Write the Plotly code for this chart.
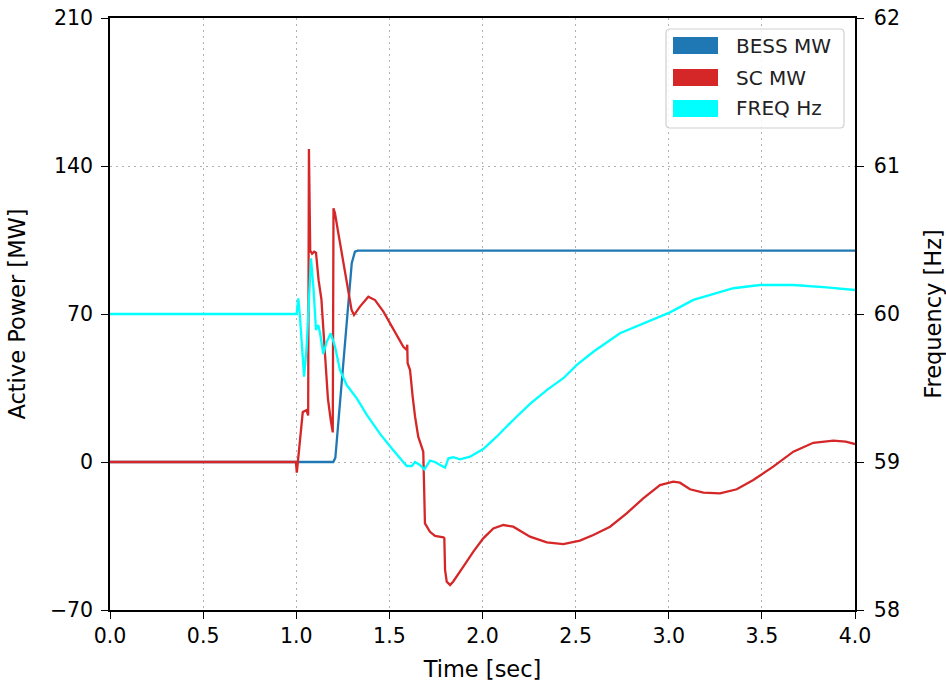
import plotly.graph_objects as go

# ---------------- data ----------------
bess_t = [0.0, 1.0, 1.199, 1.21, 1.25, 1.298, 1.315, 1.33, 4.0]
bess_mw = [0.0, 0.0, 0.0, 2.0, 42.0, 94.0, 99.5, 100.0, 100.0]

sc_t = [0.0, 0.998, 1.003, 1.012, 1.035, 1.055, 1.064, 1.068, 1.075, 1.085,
        1.096, 1.106, 1.12, 1.135, 1.155, 1.17, 1.185, 1.196, 1.2, 1.208,
        1.226, 1.253, 1.28, 1.297, 1.31, 1.342, 1.387, 1.423, 1.468, 1.521,
        1.575, 1.593, 1.596, 1.598, 1.611, 1.625, 1.638, 1.655, 1.682, 1.686,
        1.691, 1.718, 1.745, 1.79, 1.795, 1.799, 1.808, 1.826, 1.843, 1.897,
        1.951, 2.004, 2.058, 2.112, 2.165, 2.255, 2.345, 2.434, 2.523, 2.595,
        2.685, 2.774, 2.863, 2.953, 3.024, 3.06, 3.114, 3.186, 3.275, 3.365,
        3.454, 3.561, 3.669, 3.776, 3.884, 3.95, 4.0]
sc_mw = [0.0, 0.0, -5.0, 4.0, 23.6, 24.5, 22.0, 148.0, 100.0, 98.5,
         99.5, 99.0, 86.0, 77.0, 52.0, 30.0, 20.0, 14.0, 120.0, 117.6,
         108.2, 94.0, 81.4, 71.9, 69.5, 73.5, 78.2, 76.6, 71.1, 63.2,
         54.5, 53.0, 55.5, 46.7, 43.5, 30.9, 21.4, 12.0, 4.9, -10.0,
         -29.0, -33.0, -35.0, -35.6, -36.0, -51.0, -56.6, -58.2, -56.5, -49.5,
         -42.4, -36.1, -31.4, -29.8, -30.6, -35.3, -38.0, -38.8, -37.2, -34.5,
         -30.6, -24.3, -17.2, -10.9, -9.3, -9.8, -12.9, -14.5, -14.8, -12.9,
         -8.5, -2.2, 4.9, 9.1, 10.1, 9.6, 8.5]

freq_t = [0.0, 1.002, 1.011, 1.02, 1.042, 1.056, 1.079, 1.092, 1.106, 1.118,
          1.128, 1.145, 1.163, 1.185, 1.208, 1.235, 1.271, 1.325, 1.378, 1.45,
          1.521, 1.584, 1.593, 1.62, 1.638, 1.664, 1.688, 1.718, 1.745, 1.772,
          1.799, 1.817, 1.843, 1.879, 1.933, 2.004, 2.076, 2.165, 2.255, 2.345,
          2.434, 2.505, 2.595, 2.738, 2.882, 3.007, 3.132, 3.221, 3.347, 3.49,
          3.669, 3.848, 4.0]
freq_hz = [60.0, 60.0, 60.106, 59.98, 59.576, 59.779, 60.376, 60.185, 59.892, 59.926,
           59.87, 59.73, 59.81, 59.87, 59.78, 59.62, 59.52, 59.43, 59.32, 59.19,
           59.08, 58.984, 58.973, 58.973, 59.0, 58.98, 58.95, 59.009, 59.0, 58.98,
           58.962, 59.025, 59.032, 59.018, 59.036, 59.088, 59.171, 59.284, 59.392, 59.486,
           59.566, 59.655, 59.745, 59.87, 59.948, 60.011, 60.095, 60.128, 60.174, 60.196,
           60.196, 60.18, 60.162]

series_names = ["BESS MW", "SC MW", "FREQ Hz"]
series_colors = ["#1f77b4", "#d62728", "#00ffff"]

x_ticks = [0.0, 0.5, 1.0, 1.5, 2.0, 2.5, 3.0, 3.5, 4.0]
y_left_ticks = [-70, 0, 70, 140, 210]
y_right_ticks = [58, 59, 60, 61, 62]

FONT = "DejaVu Sans"

fig = go.Figure()
fig.add_trace(go.Scatter(x=bess_t, y=bess_mw, mode="lines", name=series_names[0],
                         line=dict(color=series_colors[0], width=2.3), showlegend=False))
fig.add_trace(go.Scatter(x=sc_t, y=sc_mw, mode="lines", name=series_names[1],
                         line=dict(color=series_colors[1], width=2.3), showlegend=False))
fig.add_trace(go.Scatter(x=freq_t, y=freq_hz, mode="lines", name=series_names[2], yaxis="y2",
                         line=dict(color=series_colors[2], width=2.3), showlegend=False))

axis_common = dict(showline=True, linecolor="black", linewidth=1.5, ticks="outside",
                   ticklen=7, tickwidth=1.2, tickcolor="black", zeroline=False,
                   automargin=False,
                   tickfont=dict(family=FONT, size=20.5, color="black"))

TITLE_FONT = dict(family=FONT, size=22.5, color="black")

fig.update_layout(
    width=946, height=688,
    margin=dict(l=110, r=91, t=18, b=78),
    paper_bgcolor="white", plot_bgcolor="white",
    font=dict(family=FONT, color="black"),
    showlegend=False,
    xaxis=dict(range=[0, 4], tickvals=x_ticks, tickformat=".1f", mirror=True,
               showgrid=True, gridcolor="#b0b0b0", griddash="2px,4px", gridwidth=1,
               title=dict(text="Time [sec]", font=TITLE_FONT, standoff=14),
               **axis_common),
    yaxis=dict(range=[-70, 210], tickvals=y_left_ticks, ticklabelstandoff=4,
               showgrid=True, gridcolor="#b0b0b0", griddash="2px,4px", gridwidth=1,
               title=dict(text="Active Power [MW]", font=TITLE_FONT, standoff=18),
               **axis_common),
    yaxis2=dict(range=[58, 62], tickvals=y_right_ticks, overlaying="y", side="right",
                showgrid=False, ticklabelstandoff=6,
                title=dict(text="Frequency [Hz]", font=TITLE_FONT, standoff=26),
                **axis_common),
)

# manual legend (matplotlib-style patches)
W, H, L, B = 745.0, 592.0, 110.0, 610.0
def px(xp):
    return (xp - L) / W
def py(yp):
    return (B - yp) / H

shapes = []
x0, x1, y0, y1, r = 666, 844, 29, 128, 4
path = (f"M {px(x0 + r)},{py(y0)} L {px(x1 - r)},{py(y0)} Q {px(x1)},{py(y0)} {px(x1)},{py(y0 + r)} "
        f"L {px(x1)},{py(y1 - r)} Q {px(x1)},{py(y1)} {px(x1 - r)},{py(y1)} "
        f"L {px(x0 + r)},{py(y1)} Q {px(x0)},{py(y1)} {px(x0)},{py(y1 - r)} "
        f"L {px(x0)},{py(y0 + r)} Q {px(x0)},{py(y0)} {px(x0 + r)},{py(y0)} Z")
shapes.append(dict(type="path", xref="paper", yref="paper", path=path,
                   fillcolor="rgba(255,255,255,0.85)", line=dict(color="#d0d0d0", width=1.2),
                   layer="above"))
row_tops = [37, 69, 100]
annotations = []
for name, color, top in zip(series_names, series_colors, row_tops):
    shapes.append(dict(type="rect", xref="paper", yref="paper",
                       x0=px(673), x1=px(718), y0=py(top + 17), y1=py(top),
                       fillcolor=color, line=dict(width=0), layer="above"))
    annotations.append(dict(xref="paper", yref="paper", x=px(734), y=py(top + 8.5),
                            xanchor="left", yanchor="middle", showarrow=False,
                            text=name, font=dict(family=FONT, size=20, color="#222222")))
fig.update_layout(shapes=shapes, annotations=annotations)

fig.write_html("out.html")
